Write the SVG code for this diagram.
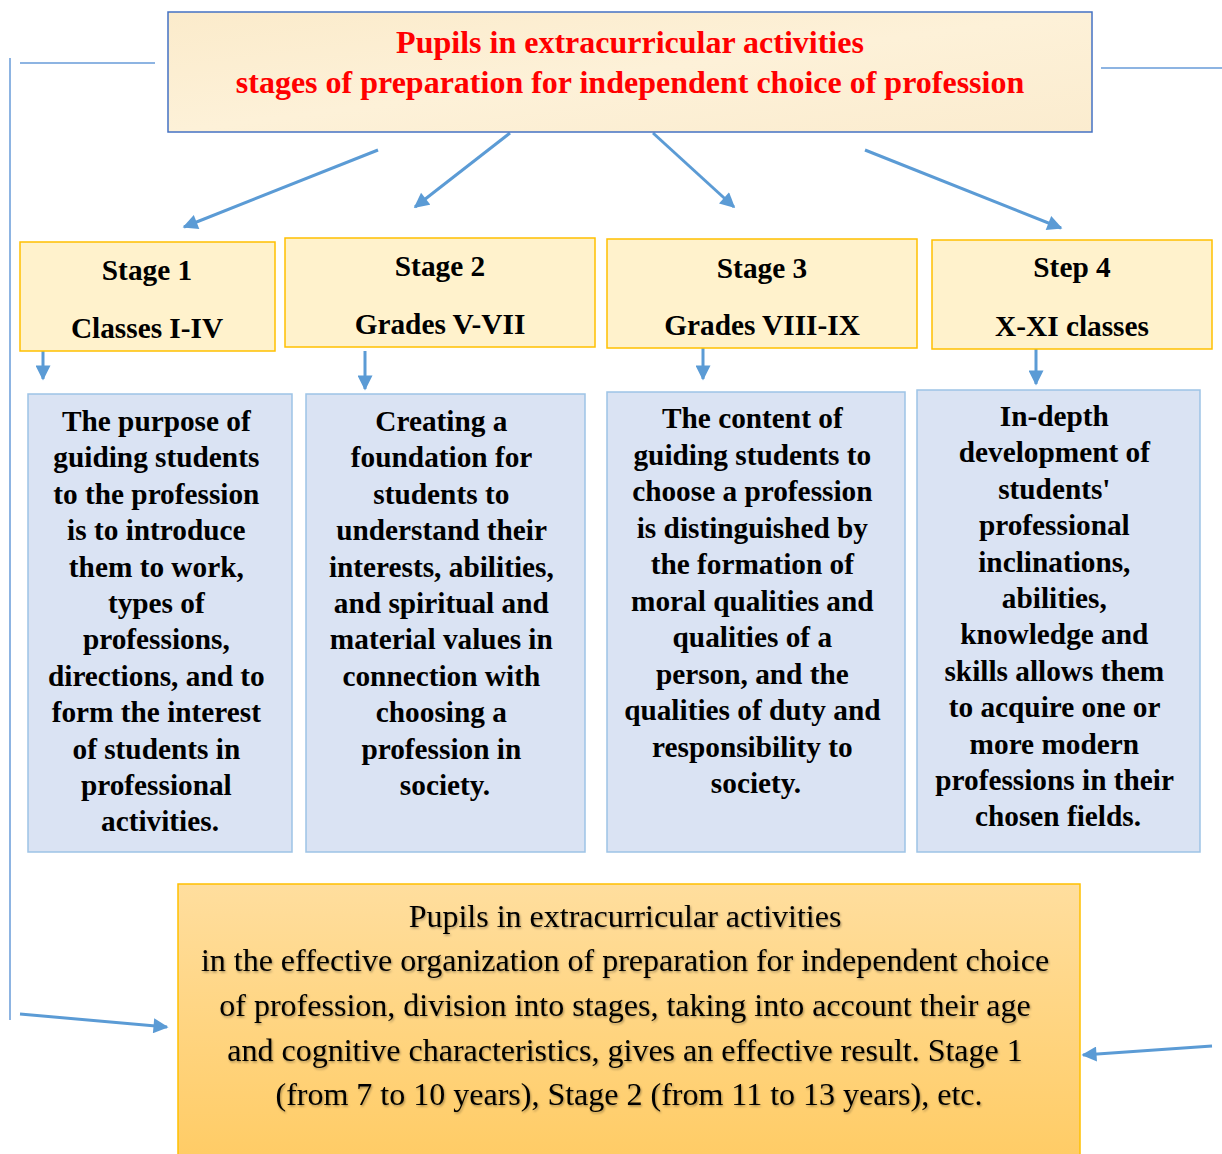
<svg xmlns="http://www.w3.org/2000/svg" width="1222" height="1154" viewBox="0 0 1222 1154">
<defs>
<marker id="ah" viewBox="0 0 10 10" refX="9" refY="5" markerWidth="5.5" markerHeight="5" markerUnits="strokeWidth" orient="auto">
<path d="M0,0 L10,5 L0,10 z" fill="#5B9BD5"/>
</marker>
<linearGradient id="gBottom" x1="0" y1="0" x2="0" y2="1">
<stop offset="0" stop-color="#FFDE9E"/>
<stop offset="1" stop-color="#FFCC66"/>
</linearGradient>
<linearGradient id="gTop" x1="0" y1="0" x2="1" y2="1">
<stop offset="0" stop-color="#FBEBCB"/>
<stop offset="0.5" stop-color="#FDF1D8"/>
<stop offset="1" stop-color="#FBECCF"/>
</linearGradient>
<filter id="ts" x="-5%" y="-20%" width="110%" height="140%">
<feDropShadow dx="1" dy="1.5" stdDeviation="1" flood-color="#000" flood-opacity="0.35"/>
</filter>
</defs>
<style>
.conn{stroke:#5B9BD5;stroke-width:3;fill:none}
.thin{stroke:#8DB4E2;stroke-width:2;fill:none}
.stage{fill:#FFF2CC;stroke:#FFC000;stroke-width:1.5}
.info{fill:#DAE3F3;stroke:#9DC3E6;stroke-width:1.5}
.b{font-family:"Liberation Serif","Times New Roman",serif;font-weight:bold;font-size:29.3px;fill:#000;text-anchor:middle}
.t{font-family:"Liberation Serif","Times New Roman",serif;font-weight:bold;font-size:32px;fill:#FF0000;text-anchor:middle}
.r{font-family:"Liberation Serif","Times New Roman",serif;font-size:32px;fill:#000;text-anchor:middle}
</style>

<g id="connectors">
<line class="thin" x1="10" y1="58" x2="10" y2="1020"/>
<line class="thin" x1="20" y1="63" x2="155" y2="63"/>
<line class="thin" x1="1101" y1="68" x2="1222" y2="68"/>
<line class="conn" x1="378" y1="150" x2="184" y2="227" marker-end="url(#ah)"/>
<line class="conn" x1="510" y1="133" x2="415" y2="207" marker-end="url(#ah)"/>
<line class="conn" x1="653" y1="133" x2="734" y2="207" marker-end="url(#ah)"/>
<line class="conn" x1="865" y1="150" x2="1061" y2="228" marker-end="url(#ah)"/>
<line class="conn" x1="43" y1="351" x2="43" y2="379" marker-end="url(#ah)"/>
<line class="conn" x1="365" y1="351" x2="365" y2="389" marker-end="url(#ah)"/>
<line class="conn" x1="703" y1="348" x2="703" y2="379" marker-end="url(#ah)"/>
<line class="conn" x1="1036" y1="349" x2="1036" y2="384" marker-end="url(#ah)"/>
<line class="conn" x1="20" y1="1014" x2="167" y2="1027" marker-end="url(#ah)"/>
<line class="conn" x1="1212" y1="1046" x2="1083" y2="1055" marker-end="url(#ah)"/>
</g>

<g id="title">
<rect x="168" y="12" width="924" height="120" fill="url(#gTop)" stroke="#4472C4" stroke-width="1.5"/>
<text class="t" x="630" y="53">Pupils in extracurricular activities</text>
<text class="t" x="630" y="93">stages of preparation for independent choice of profession</text>
</g>

<g id="stage1">
<rect class="stage" x="20" y="242" width="255" height="109"/>
<text class="b" x="147" y="280">Stage 1</text>
<text class="b" x="147" y="338">Classes I-IV</text>
</g>
<g id="stage2">
<rect class="stage" x="285" y="238" width="310" height="109"/>
<text class="b" x="440" y="276">Stage 2</text>
<text class="b" x="440" y="334">Grades V-VII</text>
</g>
<g id="stage3">
<rect class="stage" x="607" y="239" width="310" height="109"/>
<text class="b" x="762" y="278">Stage 3</text>
<text class="b" x="762" y="335">Grades VIII-IX</text>
</g>
<g id="stage4">
<rect class="stage" x="932" y="240" width="280" height="109"/>
<text class="b" x="1072" y="277">Step 4</text>
<text class="b" x="1072" y="336">X-XI classes</text>
</g>

<g id="info1">
<rect class="info" x="28" y="394" width="264" height="458"/>
<text class="b" x="160">
<tspan x="160" y="431">The purpose of</tspan>
<tspan x="160" y="467.4">guiding students</tspan>
<tspan x="160" y="503.8">to the profession</tspan>
<tspan x="160" y="540.2">is to introduce</tspan>
<tspan x="160" y="576.6">them to work,</tspan>
<tspan x="160" y="613">types of</tspan>
<tspan x="160" y="649.4">professions,</tspan>
<tspan x="160" y="685.8">directions, and to</tspan>
<tspan x="160" y="722.2">form the interest</tspan>
<tspan x="160" y="758.6">of students in</tspan>
<tspan x="160" y="795">professional</tspan>
<tspan x="160" y="831.4">activities.</tspan>
</text>
</g>
<g id="info2">
<rect class="info" x="306" y="394" width="279" height="458"/>
<text class="b" x="445">
<tspan x="445" y="431">Creating a</tspan>
<tspan x="445" y="467.4">foundation for</tspan>
<tspan x="445" y="503.8">students to</tspan>
<tspan x="445" y="540.2">understand their</tspan>
<tspan x="445" y="576.6">interests, abilities,</tspan>
<tspan x="445" y="613">and spiritual and</tspan>
<tspan x="445" y="649.4">material values in</tspan>
<tspan x="445" y="685.8">connection with</tspan>
<tspan x="445" y="722.2">choosing a</tspan>
<tspan x="445" y="758.6">profession in</tspan>
<tspan x="445" y="795">society.</tspan>
</text>
</g>
<g id="info3">
<rect class="info" x="607" y="392" width="298" height="460"/>
<text class="b" x="756">
<tspan x="756" y="428">The content of</tspan>
<tspan x="756" y="464.5">guiding students to</tspan>
<tspan x="756" y="501">choose a profession</tspan>
<tspan x="756" y="537.5">is distinguished by</tspan>
<tspan x="756" y="574">the formation of</tspan>
<tspan x="756" y="610.5">moral qualities and</tspan>
<tspan x="756" y="647">qualities of a</tspan>
<tspan x="756" y="683.5">person, and the</tspan>
<tspan x="756" y="720">qualities of duty and</tspan>
<tspan x="756" y="756.5">responsibility to</tspan>
<tspan x="756" y="793">society.</tspan>
</text>
</g>
<g id="info4">
<rect class="info" x="917" y="390" width="283" height="462"/>
<text class="b" x="1058">
<tspan x="1058" y="426">In-depth</tspan>
<tspan x="1058" y="462.4">development of</tspan>
<tspan x="1058" y="498.8">students'</tspan>
<tspan x="1058" y="535.2">professional</tspan>
<tspan x="1058" y="571.6">inclinations,</tspan>
<tspan x="1058" y="608">abilities,</tspan>
<tspan x="1058" y="644.4">knowledge and</tspan>
<tspan x="1058" y="680.8">skills allows them</tspan>
<tspan x="1058" y="717.2">to acquire one or</tspan>
<tspan x="1058" y="753.6">more modern</tspan>
<tspan x="1058" y="790">professions in their</tspan>
<tspan x="1058" y="826.4">chosen fields.</tspan>
</text>
</g>

<g id="result">
<rect x="178" y="884" width="902" height="272" fill="url(#gBottom)" stroke="#FFC000" stroke-width="1.5"/>
<text class="r" x="629" filter="url(#ts)">
<tspan x="629" y="927">Pupils in extracurricular activities</tspan>
<tspan x="629" y="971">in the effective organization of preparation for independent choice</tspan>
<tspan x="629" y="1016">of profession, division into stages, taking into account their age</tspan>
<tspan x="629" y="1061">and cognitive characteristics, gives an effective result. Stage 1</tspan>
<tspan x="629" y="1105">(from 7 to 10 years), Stage 2 (from 11 to 13 years), etc.</tspan>
</text>
</g>
</svg>
